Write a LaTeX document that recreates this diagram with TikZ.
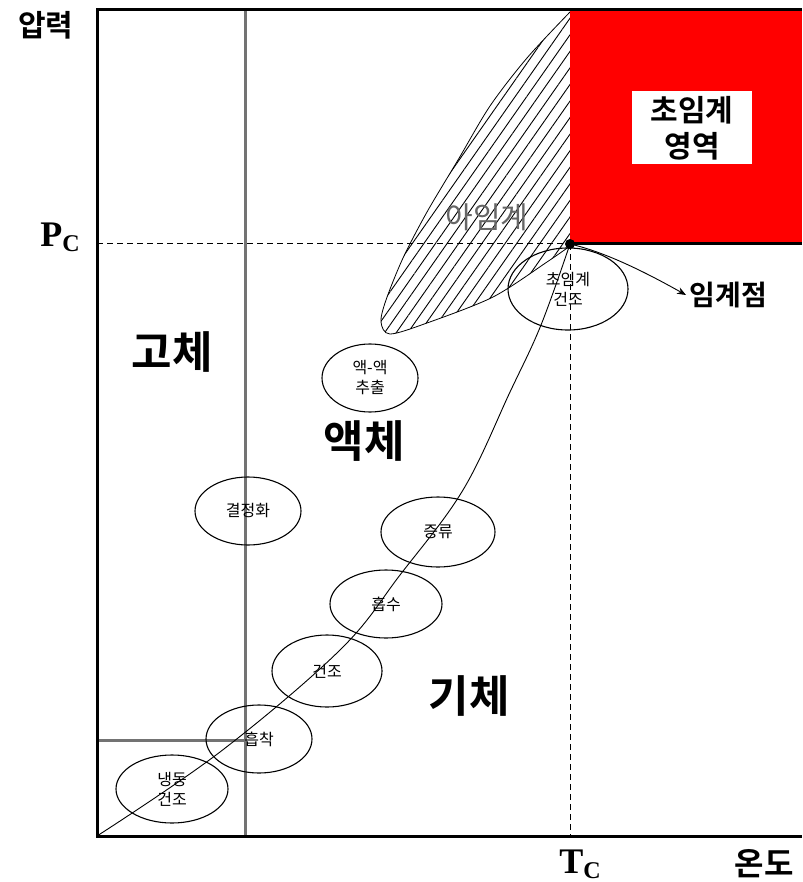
\documentclass[tikz,border=0pt]{standalone}
\usepackage{fontspec}
\setmainfont{Liberation Serif}
\newfontfamily\kr{Noto Sans CJK KR}[BoldFont={Noto Sans CJK KR Bold}]
\usetikzlibrary{shapes.geometric,patterns.meta,arrows.meta}
\begin{document}
\begin{tikzpicture}[x=1pt,y=-1pt,
  ell/.style={draw,ellipse,line width=1.1pt,inner sep=0pt,align=center,
    font=\kr\fontsize{16}{20}\selectfont},
  phase/.style={font=\kr\bfseries\fontsize{44}{44}\selectfont},
  axislbl/.style={font=\kr\bfseries\fontsize{30}{30}\selectfont},
  guide/.style={draw=black!55,line width=3pt},
  dashline/.style={dash pattern=on 6pt off 4pt,line width=1pt},
  frame/.style={line width=3pt}]
\useasboundingbox (0,0) rectangle (802,882);
% guide lines
\coordinate (gtop) at (245,10);
\coordinate (gbot) at (245,836);
\coordinate (hl) at (97,740);
\coordinate (hr) at (245,740);
\draw[guide] (gtop) -- (gbot);
\draw[guide] (hl) -- (hr);
% critical point coordinates
\coordinate (cp) at (570,244);
\coordinate (pcl) at (97,244);
\coordinate (tcb) at (570,836);
\draw[dashline] (pcl) -- (cp);
\draw[dashline] (cp) -- (tcb);
% subcritical hatched region
\path[pattern={Lines[angle=55,distance=9.5pt,line width=0.9pt]}]
  plot[smooth] coordinates {(570,12) (527,58) (490,106) (458,160) (427,212) (403,258) (386,300) (381,322) (390,334) (427,323) (493,297) (547,262) (570,246)} -- cycle;
\draw[line width=0.8pt]
  plot[smooth] coordinates {(570,12) (527,58) (490,106) (458,160) (427,212) (403,258) (386,300) (381,322) (390,334) (427,323) (493,297) (547,262) (570,246)};
\node[font=\kr\fontsize{30}{30}\selectfont,text=gray!80!black] (sub) at (487,217) {아임계};
% supercritical region
\fill[red] (570,10) rectangle (802,244);
\draw[line width=3pt] (570,244) -- (802,244);
\node[fill=white,minimum width=120pt,minimum height=73pt,inner sep=0pt,align=center,
  font=\kr\bfseries\fontsize{30}{36}\selectfont] (sc) at (692,128) {초임계\\영역};
% frame
\draw[frame] (802,10) -- (97,10) -- (97,836) -- (802,836);
% vapour pressure curve
\coordinate (o) at (97,836);
\draw[line width=0.9pt] plot[smooth,tension=0.6] coordinates {(o) (220,752) (340,650) (400,575) (463,490) (510,392) (541,325) (cp)};
% ellipses
\node[ell,minimum width=120pt,minimum height=82pt] (e1) at (568,289) {초임계\\건조};
\node[ell,minimum width=96pt,minimum height=68pt] (e2) at (370,378) {액-액\\추출};
\node[ell,minimum width=106pt,minimum height=68pt] (e3) at (248,511) {결정화};
\node[ell,minimum width=114pt,minimum height=70pt] (e4) at (438,532) {증류};
\node[ell,minimum width=112pt,minimum height=68pt] (e5) at (386,604) {흡수};
\node[ell,minimum width=110pt,minimum height=72pt] (e6) at (327,671) {건조};
\node[ell,minimum width=106pt,minimum height=68pt] (e7) at (259,739) {흡착};
\node[ell,minimum width=112pt,minimum height=68pt] (e8) at (172,789) {냉동\\건조};
% phase labels
\node[phase] (solid) at (172,352) {고체};
\node[phase] (liquid) at (364,441) {액체};
\node[phase] (gas) at (469,696) {기체};
% axis labels
\node[axislbl] (p) at (46,25) {압력};
\node[axislbl,font=\kr\bfseries\fontsize{32}{32}\selectfont] (t) at (764,864) {온도};
\node[font=\bfseries\fontsize{36}{36}\selectfont] (pc) at (60,237) {P\raisebox{-5pt}{\fontsize{24}{24}\selectfont C}};
\node[font=\bfseries\fontsize{36}{36}\selectfont] (tc) at (580,864) {T\raisebox{-5pt}{\fontsize{24}{24}\selectfont C}};
% critical point
\fill (cp) circle (5pt);
\node[axislbl,font=\kr\bfseries\fontsize{28}{28}\selectfont,anchor=west] (cpl) at (686,295) {임계점};
\draw[line width=0.9pt,-{Stealth[length=9pt,width=7pt]}] (cp) .. controls (605,252) and (645,272) .. (cpl.west);
\end{tikzpicture}
\end{document}
